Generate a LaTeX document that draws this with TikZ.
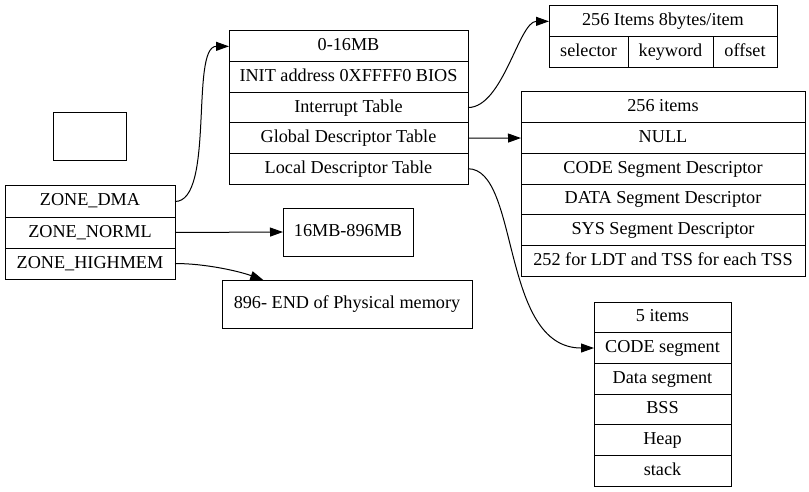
\documentclass[tikz,border=0pt]{standalone}
\usepackage{fontspec}
\setmainfont{Liberation Serif}
\usetikzlibrary{arrows.meta, positioning}

\begin{document}
\begin{tikzpicture}[x=1pt, y=-1pt, >={Triangle[length=13pt, width=9pt]},
  every node/.style={font=\fontsize{18.2}{22}\selectfont},
  cell/.style={draw, line width=1pt, inner sep=0pt, outer sep=0pt,
    text height=12.5pt, text depth=3.5pt, minimum height=30.7pt},
  link/.style={->, line width=1pt}]
  \useasboundingbox (0,0) rectangle (809,492);

  % empty box
  \node[cell, minimum width=73pt, minimum height=48pt] (blank) at (89.5,137) {};

  % zones
  \node[cell, minimum width=170pt, minimum height=31pt, anchor=north west]
    (dma) at (5,186) {ZONE\_DMA};
  \node[cell, minimum width=170pt, minimum height=31pt, below=0pt of dma]
    (norml) {ZONE\_NORML};
  \node[cell, minimum width=170pt, minimum height=31pt, below=0pt of norml]
    (highmem) {ZONE\_HIGHMEM};

  % low memory
  \foreach \i/\t in {0/0-16MB, 1/INIT address 0XFFFF0 BIOS, 2/Interrupt Table,
    3/Global Descriptor Table, 4/Local Descriptor Table} {
    \pgfmathsetmacro{\ypos}{31 + \i * 30.6}
    \node[cell, minimum width=239pt, anchor=north west] (mem\i) at (229,\ypos) {\t};
  }

  % interrupt table
  \node[cell, minimum width=228pt, anchor=north west] (idt) at (549,6) {256 Items 8bytes/item};
  \node[cell, minimum width=79pt, anchor=north west] (sel) at (idt.south west) {selector};
  \node[cell, minimum width=85pt, anchor=north west] (key) at (sel.north east) {keyword};
  \node[cell, minimum width=64pt, anchor=north west] (off) at (key.north east) {offset};

  % global descriptor table
  \foreach \i/\t in {0/256 items, 1/NULL, 2/CODE Segment Descriptor,
    3/DATA Segment Descriptor, 4/SYS Segment Descriptor,
    5/252 for LDT and TSS for each TSS} {
    \pgfmathsetmacro{\ypos}{92 + \i * 30.67}
    \node[cell, minimum width=284pt, anchor=north west] (gdt\i) at (521,\ypos) {\t};
  }

  % local descriptor table
  \foreach \i/\t in {0/5 items, 1/CODE segment, 2/Data segment, 3/BSS,
    4/Heap, 5/stack} {
    \pgfmathsetmacro{\ypos}{302 + \i * 30.67}
    \node[cell, minimum width=137pt, anchor=north west] (ldt\i) at (594,\ypos) {\t};
  }

  % other ranges
  \node[cell, minimum width=130pt, minimum height=48pt] (mid) at (348,232) {16MB-896MB};
  \node[cell, minimum width=250pt, minimum height=48pt] (phys) at (347,304)
    {896- END of Physical memory};

  % links
  \draw[link] (dma.east) .. controls +(40,0) and +(-39,0) .. (mem0.west);
  \draw[link] (mem2.east) .. controls +(35,0) and +(-30,0) .. (idt.west);
  \draw[link] (mem3.east) -- (gdt1.west);
  \draw[link] (mem4.east) .. controls +(52,0) and +(-94,0) .. (ldt1.west);
  \draw[link] (norml.east) -- (mid.west);
  \draw[link] (highmem.east) .. controls +(30,0) and +(-25,-9) .. (phys.164);
\end{tikzpicture}
\end{document}
